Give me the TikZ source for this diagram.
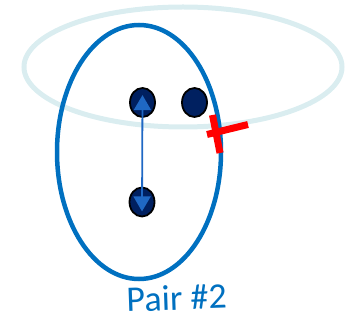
\documentclass[tikz,border=0pt]{standalone}
\usepackage{fontspec}
\setmainfont{Carlito}
\usetikzlibrary{arrows.meta,shapes.geometric}
\definecolor{lightring}{RGB}{218,237,240}
\definecolor{bluering}{RGB}{0,112,192}
\definecolor{navy}{RGB}{0,32,96}
\definecolor{arrowblue}{RGB}{31,104,196}
\tikzset{
  dot/.style={ellipse, draw=black, line width=1.8pt, fill=navy, minimum width=25pt, minimum height=29pt, inner sep=0pt},
  pairarrow/.style={draw=arrowblue, line width=1.8pt, {Triangle[width=17pt,length=15pt]}-{Triangle[width=17pt,length=15pt]}, color=arrowblue},
  crossbar/.style={draw=red, line width=7pt}
}
\begin{document}
\begin{tikzpicture}[x=1pt,y=-1pt]
\useasboundingbox (0,0) rectangle (347,320);
\draw[lightring, line width=5pt] (183,67) ellipse [x radius=159, y radius=60];
\draw[bluering, line width=4.5pt] (139,152) ellipse [x radius=82, y radius=127];
\node[dot] (d1) at (142.5,102.5) {};
\node[dot] (d2) at (194.5,102.5) {};
\node[dot] (d3) at (142,202) {};
\draw[pairarrow] ([yshift=6]d3.south) -- ([yshift=-8]d1.north);
\coordinate (c1) at (207,134.5);
\coordinate (c2) at (248,124.5);
\coordinate (c3) at (212.5,115);
\coordinate (c4) at (220,153);
\draw[crossbar] (c1) -- (c2);
\draw[crossbar] (c3) -- (c4);
\node[text=bluering, font=\fontsize{36}{40}\selectfont, rotate=2, anchor=base, inner sep=0pt] (lbl) at (177,310) {Pair \#2};
\end{tikzpicture}
\end{document}
